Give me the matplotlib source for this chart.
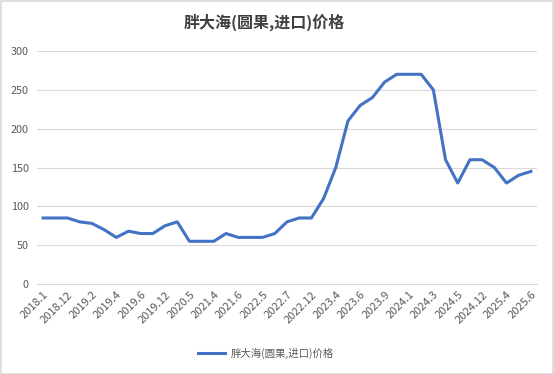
import matplotlib
matplotlib.use("Agg")
import matplotlib.pyplot as plt
from matplotlib.patches import Rectangle

plt.rcParams['font.family'] = ['Noto Sans CJK SC', 'DejaVu Sans']

title = "胖大海(圆果,进口)价格"
series_name = "胖大海(圆果,进口)价格"
tick_labels = ["2018.1", "2018.12", "2019.2", "2019.4", "2019.6", "2019.12", "2020.5",
               "2021.4", "2021.6", "2022.5", "2022.7", "2022.12", "2023.4", "2023.6",
               "2023.9", "2024.1", "2024.3", "2024.5", "2024.12", "2025.4", "2025.6"]
values = [85, 85, 85, 80, 78, 70, 60, 68, 65, 65, 75, 80, 55, 55, 55, 65, 60, 60, 60, 65,
          80, 85, 85, 110, 150, 210, 230, 240, 260, 270, 270, 270, 250, 160, 130, 160,
          160, 150, 130, 140, 145]
y_ticks = [0, 50, 100, 150, 200, 250, 300]

W, H = 554, 374
fig = plt.figure(figsize=(W / 100, H / 100), dpi=100)
fig.patches.append(Rectangle((0.5 / W, 0.5 / H), 1 - 1.5 / W, 1 - 1.5 / H, transform=fig.transFigure,
                             fill=False, edgecolor='#d9d9d9', linewidth=1.2))

left, right, top, bottom = 37, 537, 51, 284
ax = fig.add_axes([left / W, 1 - bottom / H, (right - left) / W, (bottom - top) / H])

x = list(range(len(values)))
ax.plot(x, values, color='#4472C4', linewidth=2.2, solid_joinstyle='round', label=series_name)

ax.set_xlim(-0.5, len(values) - 0.5)
ax.set_ylim(0, 300)
ax.set_yticks(y_ticks)
ax.set_yticklabels([str(v) for v in y_ticks], fontsize=7.8, color='#595959')
ax.yaxis.grid(True, color='#d9d9d9', linewidth=0.8)
ax.set_axisbelow(True)

ax.set_xticks(x[::2])
ax.set_xticklabels(tick_labels, rotation=45, ha='right', rotation_mode='anchor',
                   fontsize=8, color='#595959')
ax.tick_params(axis='both', length=0, pad=6)
ax.tick_params(axis='x', pad=4)

for s in ['top', 'right', 'left']:
    ax.spines[s].set_visible(False)
ax.spines['bottom'].set_color('#d9d9d9')
ax.spines['bottom'].set_linewidth(0.8)

fig.text(264 / W, 1 - 22 / H, title, ha='center', va='center', fontsize=11.5,
         fontweight='bold', color='#404040')

fig.legend(loc='center', bbox_to_anchor=(266 / W, 1 - 353 / H), frameon=False,
           fontsize=7.5, labelcolor='#595959', handlelength=2.6, handletextpad=0.6)

fig.savefig('out.png', dpi=100, facecolor='white')
